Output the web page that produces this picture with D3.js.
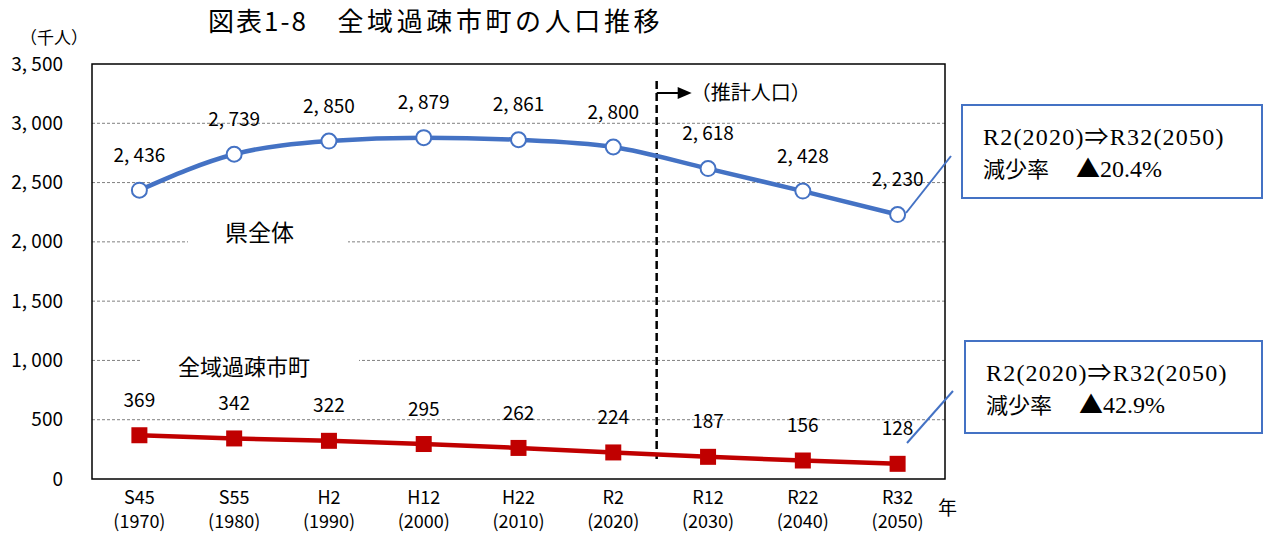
<!DOCTYPE html>
<html>
<head>
<meta charset="utf-8">
<script src="https://cdn.jsdelivr.net/npm/d3@7"></script>
<style>
  body { margin: 0; background: #fff; }
  svg text { font-family: "Noto Sans CJK JP", sans-serif; fill: #000; }
  .serif { font-family: "Liberation Serif", "Noto Sans CJK JP", serif; }
</style>
</head>
<body>
<div id="chart"></div>
<script>
// categories and values
var categories = ["S45", "S55", "H2", "H12", "H22", "R2", "R12", "R22", "R32"];
var years = ["(1970)", "(1980)", "(1990)", "(2000)", "(2010)", "(2020)", "(2030)", "(2040)", "(2050)"];
var prefTotal = [2436, 2739, 2850, 2879, 2861, 2800, 2618, 2428, 2230];   // 県全体
var depopulated = [369, 342, 322, 295, 262, 224, 187, 156, 128];           // 全域過疎市町
var yTicks = [0, 500, 1000, 1500, 2000, 2500, 3000, 3500];

var cfg = { width: 1270, height: 535, left: 92, right: 945, top: 64, bottom: 479 };

var svg = d3.select("#chart").append("svg")
  .attr("width", cfg.width)
  .attr("height", cfg.height);

// Scales
var x = d3.scaleBand()
  .domain(categories)
  .range([cfg.left, cfg.right]);
var cx = function(c) { return x(c) + x.bandwidth() / 2; };

var y = d3.scaleLinear()
  .domain([0, 3500])
  .range([cfg.bottom, cfg.top]);

var fmt = function(v) { return d3.format(",")(v).replace(",", ", "); };

// Title
var title = svg.append("text")
  .attr("x", 208).attr("y", 31)
  .style("font-size", "26px");
title.append("tspan").style("letter-spacing", "2px").text("図表1-8");
title.append("tspan").style("letter-spacing", "3.6px").text("　全域過疎市町の人口推移");

svg.append("text")
  .attr("x", 20).attr("y", 44)
  .style("font-size", "17px")
  .text("（千人）");

// grid lines
svg.append("g")
  .selectAll("line")
  .data(yTicks.filter(function(d) { return d > 0 && d < 3500; }))
  .enter().append("line")
    .attr("x1", cfg.left).attr("x2", cfg.right)
    .attr("y1", function(d) { return y(d); })
    .attr("y2", function(d) { return y(d); })
    .style("stroke", "#808080")
    .style("stroke-width", 1)
    .style("stroke-dasharray", "3,2");

// Y axis labels
var yAxis = svg.append("g")
  .attr("transform", "translate(" + cfg.left + ",0)")
  .call(d3.axisLeft(y).tickValues(yTicks).tickSize(0).tickPadding(29).tickFormat(fmt));
yAxis.select(".domain").remove();
yAxis.selectAll("text")
  .style("font-size", "19px")
  .style("font-family", "'Noto Sans CJK JP', sans-serif");

// plot frame
svg.append("rect")
  .attr("x", cfg.left).attr("y", cfg.top)
  .attr("width", cfg.right - cfg.left)
  .attr("height", cfg.bottom - cfg.top)
  .style("fill", "none")
  .style("stroke", "#000")
  .style("stroke-width", 1.5);

// X axis labels (two lines, each its own text)
var xAxis = svg.append("g")
  .attr("transform", "translate(0," + cfg.bottom + ")")
  .call(d3.axisBottom(x).tickSize(0).tickPadding(12));
xAxis.select(".domain").remove();
xAxis.selectAll(".tick text")
  .style("font-size", "18px")
  .style("font-family", "'Noto Sans CJK JP', sans-serif");
xAxis.selectAll(".tick").each(function(d, i) {
  d3.select(this).append("text")
    .attr("y", 49)
    .attr("text-anchor", "middle")
    .style("font-size", "18px")
    .text(years[i]);
});
svg.append("text")
  .attr("x", 938).attr("y", 515)
  .style("font-size", "19px")
  .text("年");

// label backgrounds for series names
svg.append("rect").attr("x", 188).attr("y", 214).attr("width", 160).attr("height", 38).style("fill", "#fff");
svg.append("rect").attr("x", 141).attr("y", 348).attr("width", 218).attr("height", 38).style("fill", "#fff");
svg.append("text").attr("x", 225).attr("y", 241).style("font-size", "23px").text("県全体");
svg.append("text").attr("x", 178).attr("y", 375).style("font-size", "22px").text("全域過疎市町");

// projection divider
var split = (cx("R2") + cx("R12")) / 2 - 4;
svg.append("line")
  .attr("x1", split).attr("x2", split)
  .attr("y1", 81).attr("y2", 459)
  .style("stroke", "#000")
  .style("stroke-width", 2.5)
  .style("stroke-dasharray", "8,4");
svg.append("line")
  .attr("x1", split).attr("x2", split + 22)
  .attr("y1", 93).attr("y2", 93)
  .style("stroke", "#000")
  .style("stroke-width", 2);
svg.append("path")
  .attr("d", "M" + (split + 21) + ",87 L" + (split + 35) + ",93 L" + (split + 21) + ",99 Z")
  .style("fill", "#000");
svg.append("text")
  .attr("x", split + 34).attr("y", 100)
  .style("font-size", "20px")
  .text("（推計人口）");

// Lines
var blue = "#4472C4", red = "#C00000";

var lineBlue = d3.line()
  .x(function(d, i) { return cx(categories[i]); })
  .y(function(d) { return y(d); })
  .curve(d3.curveMonotoneX);
var lineRed = d3.line()
  .x(function(d, i) { return cx(categories[i]); })
  .y(function(d) { return y(d); });

svg.append("path")
  .datum(prefTotal)
  .attr("d", lineBlue)
  .style("fill", "none")
  .style("stroke", blue)
  .style("stroke-width", 4.5);

svg.append("path")
  .datum(depopulated)
  .attr("d", lineRed)
  .style("fill", "none")
  .style("stroke", red)
  .style("stroke-width", 4.5);

// markers
svg.append("g").selectAll("circle")
  .data(prefTotal)
  .enter().append("circle")
    .attr("cx", function(d, i) { return cx(categories[i]); })
    .attr("cy", function(d) { return y(d); })
    .attr("r", 7.5)
    .style("fill", "#fff")
    .style("stroke", blue)
    .style("stroke-width", 2);

svg.append("g").selectAll("rect")
  .data(depopulated)
  .enter().append("rect")
    .attr("x", function(d, i) { return cx(categories[i]) - 8; })
    .attr("y", function(d) { return y(d) - 8; })
    .attr("width", 16).attr("height", 16)
    .style("fill", red);

// data labels
svg.append("g").selectAll("text")
  .data(prefTotal)
  .enter().append("text")
    .attr("x", function(d, i) { return cx(categories[i]); })
    .attr("y", function(d) { return y(d) - 35; })
    .attr("dy", "0.35em")
    .attr("text-anchor", "middle")
    .style("font-size", "19px")
    .text(fmt);

svg.append("g").selectAll("text")
  .data(depopulated)
  .enter().append("text")
    .attr("x", function(d, i) { return cx(categories[i]); })
    .attr("y", function(d) { return y(d) - 35; })
    .attr("dy", "0.35em")
    .attr("text-anchor", "middle")
    .style("font-size", "19px")
    .text(fmt);

// callouts
function callout(bx, by, bw, bh, lx1, ly1, lx2, ly2, rate) {
  svg.append("line")
    .attr("x1", lx1).attr("y1", ly1).attr("x2", lx2).attr("y2", ly2)
    .style("stroke", blue).style("stroke-width", 2);
  svg.append("rect")
    .attr("x", bx).attr("y", by).attr("width", bw).attr("height", bh)
    .style("fill", "#fff").style("stroke", blue).style("stroke-width", 2);
  svg.append("text").attr("class", "serif")
    .attr("x", bx + 21).attr("y", by + 40)
    .style("font-size", "24px")
    .style("letter-spacing", "1.2px")
    .text("R2(2020)⇒R32(2050)");
  var t2 = svg.append("text").attr("class", "serif")
    .attr("x", bx + 21).attr("y", by + 72)
    .style("font-size", "24px");
  t2.append("tspan").style("font-family", "'Noto Sans CJK JP', sans-serif").style("font-size", "22px").text("減少率　 ");
  t2.append("tspan").style("font-family", "'Noto Sans CJK JP', sans-serif").text("▲");
  t2.append("tspan").text(rate);
}
callout(962, 105, 300, 93, 906, 213, 951, 156, "20.4%");
callout(965, 341, 297, 92, 907, 443, 953, 391, "42.9%");
</script>
</body>
</html>
